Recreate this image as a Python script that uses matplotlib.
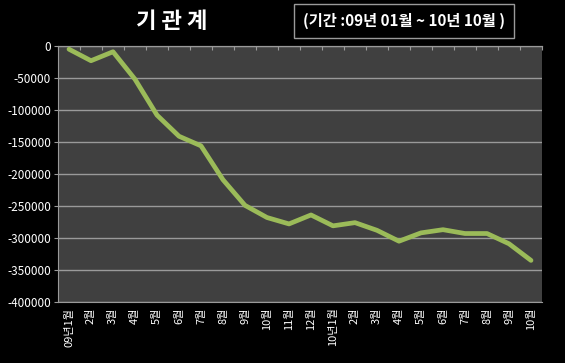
import matplotlib
matplotlib.use("Agg")
import matplotlib.pyplot as plt
import numpy as np

plt.rcParams['font.family'] = ['Noto Sans CJK KR', 'DejaVu Sans']

months = ["09년1월", "2월", "3월", "4월", "5월", "6월", "7월", "8월", "9월", "10월", "11월", "12월",
          "10년1월", "2월", "3월", "4월", "5월", "6월", "7월", "8월", "9월", "10월"]
values = [-5000, -23000, -9000, -52000, -108000, -141000, -156000, -209000, -249000,
          -268000, -278000, -264000, -281000, -276000, -288000, -305000, -292000,
          -287000, -293000, -293000, -309000, -335000]
yticks = [0, -50000, -100000, -150000, -200000, -250000, -300000, -350000, -400000]

fig = plt.figure(figsize=(5.65, 3.63), dpi=100, facecolor='black')
ax = fig.add_axes([58/565, 1 - 302/363, 484/565, 256/363])
ax.set_facecolor('#404040')

x = np.arange(len(values))
ax.plot(x, values, color='#9bbb59', lw=3.4, solid_joinstyle='round', solid_capstyle='round', zorder=3)

ax.set_xlim(-0.5, len(values) - 0.5)
ax.set_ylim(-400000, 0)
ax.set_yticks(yticks)
ax.set_yticklabels([str(v) for v in yticks], color='white', fontsize=8.5)
ax.yaxis.grid(True, color='#9a9a9a', lw=1)
ax.set_axisbelow(True)

ax.set_xticks(x)
ax.set_xticklabels(months, rotation=90, color='white', fontsize=8, va='top')
ax.tick_params(axis='x', length=0, pad=4)
ax.tick_params(axis='y', length=3, color='#9a9a9a', pad=2)

# boundary ticks along the zero line
sec = ax.secondary_xaxis('top')
sec.set_xticks(np.arange(-0.5, len(values), 1))
sec.set_xticklabels([])
sec.tick_params(direction='in', length=3, color='#9a9a9a')
sec.spines['top'].set_color('#9a9a9a')

for s in ['left', 'bottom', 'top']:
    ax.spines[s].set_color('#9a9a9a')
ax.spines['right'].set_visible(False)

fig.text(172/565, 1 - 22/363, "기 관 계", color='white', fontsize=16, fontweight='bold',
         ha='center', va='center')
fig.text(404/565, 1 - 21/363, "(기간 :09년 01월 ~ 10년 10월 )", color='white', fontsize=11,
         fontweight='bold', ha='center', va='center',
         bbox=dict(boxstyle='square,pad=0.6', fc='black', ec='#9a9a9a', lw=1))

fig.savefig("out.png", dpi=100, facecolor='black')
